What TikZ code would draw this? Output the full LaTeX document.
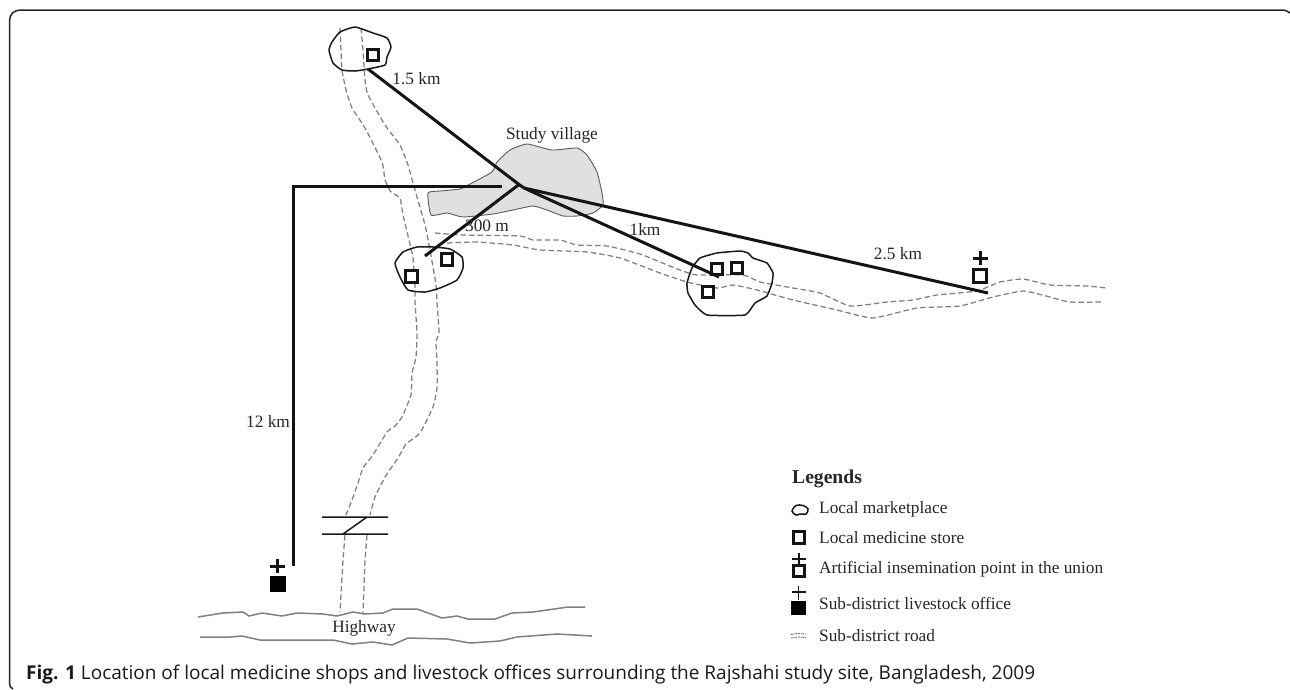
\documentclass[tikz,border=0pt]{standalone}
\usepackage{fontspec}
\setmainfont{Liberation Serif}
\newfontfamily\capfont{Open Sans}
\begin{document}
\begin{tikzpicture}[x=1pt,y=-1pt,
  lbl/.style={font=\fontsize{17.3}{20}\selectfont,text=black!85,inner sep=0pt},
  legtxt/.style={lbl,anchor=west},
  market/.style={draw=black!90,line width=1.5pt,line join=round},
  village/.style={draw=black!65,fill=black!12,line width=0.9pt},
  road/.style={draw=black!50,line width=1.25pt,dash pattern=on 5.5pt off 3pt},
  thick line/.style={draw=black!92,line width=3pt},
  highway/.style={draw=black!50,line width=1.5pt},
  store/.style={draw=black!92,line width=3pt,minimum size=11.5pt,inner sep=0pt,fill=white},
  office/.style={fill=black,minimum size=15.5pt,inner sep=0pt},
  plusmark/.style={draw=black!92,line width=3pt},
  thinplus/.style={draw=black!92,line width=1.7pt}]
\useasboundingbox (0,0) rectangle (1290,689);
\fill[white] (0,0) rectangle (1290,689);
% frame
\draw[black!85,line width=1.5pt] (13,689) .. controls (10.5,688) and (9.5,686) .. (9.5,683) -- (9.5,21) .. controls (9.5,14) and (14,10) .. (21,10) -- (1281,10) .. controls (1285,10) and (1288,11) .. (1290,13);
% village
\draw[village,line join=round] plot[smooth cycle,tension=0.3] coordinates {(428,193) (440,191) (460,189) (470,184) (492,172) (497,162) (510,150) (527,144) (552,150) (577,148) (587,155) (597,172) (602,193) (603,205) (593,213) (577,216) (563,216) (547,210) (533,206) (513,210) (493,214) (463,217) (447,213) (431,215)};
% north-south road
\draw[road] plot[smooth,tension=0.3] coordinates {(340,28) (341,50) (342,70) (346,90) (352,108) (365,128) (382,162) (385,180) (391,192) (400,198) (403,215) (409,240) (413,258) (415,285) (415,302) (417,333) (416,357) (412,373) (411,395) (402,417) (395,426) (387,432) (373,455) (363,468) (358,483) (352,500) (346,515)};
\draw[road] plot[smooth,tension=0.3] coordinates {(361,28) (363,50) (365,80) (368,95) (385,125) (400,145) (408,165) (415,190) (425,225) (430,250) (436,285) (437,303) (439,332) (436,342) (437,363) (437,388) (433,407) (420,433) (406,444) (398,458) (385,477) (375,497) (370,515)};
\draw[road] (345,535) -- (343,560) -- (340,612);
\draw[road] (367,535) -- (365,560) -- (363,614);
% east road
\draw[road] plot[smooth,tension=0.3] coordinates {(435,233) (463,235) (520,236) (533,240) (560,240) (577,245) (607,246) (640,254) (660,262) (680,270) (697,275) (743,275) (760,282) (793,288) (820,293) (850,306) (887,302) (913,300) (937,295) (977,291) (1000,282) (1023,279) (1050,285) (1087,286) (1106,288)};
\draw[road] plot[smooth,tension=0.3] coordinates {(447,243) (477,242) (513,245) (540,250) (587,252) (620,258) (660,273) (687,282) (717,288) (733,285) (757,290) (793,300) (837,310) (873,318) (917,308) (960,306) (993,297) (1023,291) (1050,297) (1070,302) (1103,302)};
% bridge
\coordinate (brA) at (322,517); \coordinate (brB) at (388,517);
\coordinate (brC) at (322,534); \coordinate (brD) at (388,534);
\coordinate (brE) at (343,534); \coordinate (brF) at (367,517);
\draw[black!90,line width=1.5pt] (brA) -- (brB) (brC) -- (brD) (brE) -- (brF);
% highway
\draw[highway] (198,617) -- (223,613) -- (243,612) -- (249,616) -- (262,613) -- (282,616) -- (297,613) -- (323,614) -- (337,616) -- (353,612) -- (365,614) -- (383,613) -- (393,609) -- (417,609) -- (442,618) -- (457,616) -- (468,619) -- (495,619) -- (512,613) -- (533,612) -- (568,607) -- (585,607);
\draw[highway] (200,637) -- (230,637) -- (242,636) -- (260,640) -- (333,640) -- (352,644) -- (373,642) -- (392,645) -- (408,638) -- (447,639) -- (470,643) -- (500,641) -- (517,637) -- (557,634) -- (592,636);
% marketplaces
\draw[market] plot[smooth cycle,tension=0.3] coordinates {(355,27) (340,32) (332,42) (329,50) (333,63) (342,70) (355,71) (368,69) (385,65) (387,57) (391,47) (387,38) (373,33)};
\draw[market] plot[smooth cycle,tension=0.3] coordinates {(417,247) (403,252) (395,263) (400,277) (408,290) (425,292) (440,288) (457,280) (463,268) (462,257) (450,249) (433,247)};
\draw[market] plot[smooth cycle,tension=0.25] coordinates {(700,258) (717,253) (740,251) (748,253) (753,258) (767,263) (773,273) (772,283) (767,296) (755,303) (745,315) (707,315) (695,305) (688,293) (687,283) (692,268)};
% stores
\node[store] (s1) at (373,55) {};
\node[store] (s2) at (411.5,276.5) {};
\node[store] (s3) at (447,259.5) {};
\node[store] (s4) at (717,269) {};
\node[store] (s5) at (737,268) {};
\node[store] (s6) at (708,292) {};
\node[store,minimum size=12.5pt] (ai) at (980,276) {};
\node[office] (off) at (278,584) {};
% plus marks
\coordinate (aiL) at (972.5,258); \coordinate (aiR) at (987.5,258);
\coordinate (aiT) at (980,251); \coordinate (aiB) at (980,265);
\draw[plusmark] (aiL) -- (aiR) (aiT) -- (aiB);
\coordinate (ofL) at (270,566); \coordinate (ofR) at (285,566);
\coordinate (ofT) at (277.5,559); \coordinate (ofB) at (277.5,573);
\draw[plusmark] (ofL) -- (ofR) (ofT) -- (ofB);
% connectors
\coordinate (hub) at (519,184.5);
\coordinate (hubE) at (524,188);
\coordinate (m1) at (368,69);
\coordinate (m2) at (425,256);
\coordinate (m3) at (719,277);
\coordinate (aiEnd) at (988,293);
\coordinate (wEnd) at (502,186.5);
\coordinate (corner) at (293,186.5);
\coordinate (ofEnd) at (293,566);
\draw[thick line] (m1) -- (hub) -- (hubE);
\draw[thick line] (m2) -- (hub);
\draw[thick line] (hubE) -- (m3);
\draw[thick line] (hubE) -- (aiEnd);
\draw[thick line,line join=miter] (wEnd) -- (corner) -- (ofEnd);
% labels
\node[lbl] (l15) at (416.5,79) {1.5 km};
\node[lbl] (lsv) at (552,135) {Study village};
\node[lbl] (l300) at (487,226) {300 m};
\node[lbl] (l1k) at (645,229) {1km};
\node[lbl] (l25) at (898,254) {2.5 km};
\node[lbl] (l12) at (268,421) {12 km};
\node[lbl] (lhw) at (364,628) {Highway};
% legend
\node[lbl,anchor=base west,font=\fontsize{19.6}{22}\selectfont\bfseries] (lg) at (792,483) {Legends};
\draw[black!90,line width=1.5pt] plot[smooth cycle,tension=0.6] coordinates {(792,511) (796,505.5) (803,505.5) (808,509) (806,514) (800,514) (796,515)};
\node[legtxt] (t1) at (819,509) {Local marketplace};
\node[store] (k2) at (799,537.5) {};
\node[legtxt] (t2) at (819,538) {Local medicine store};
\coordinate (k3L) at (792,559); \coordinate (k3R) at (806,559);
\coordinate (k3T) at (799,553); \coordinate (k3B) at (799,566);
\draw[thinplus] (k3L) -- (k3R) (k3T) -- (k3B);
\node[store] (k3) at (799,571) {};
\node[legtxt] (t3) at (819,569) {Artificial insemination point in the union};
\coordinate (k4L) at (792,592); \coordinate (k4R) at (806,592);
\coordinate (k4T) at (798.5,586); \coordinate (k4B) at (798.5,600);
\draw[thinplus] (k4L) -- (k4R) (k4T) -- (k4B);
\node[office,minimum size=14.5pt] (k4) at (798.5,608) {};
\node[legtxt] (t4) at (819,603) {Sub-district livestock office};
\draw[black!60,line width=0.8pt,dash pattern=on 2.5pt off 1pt] (791,634.5) -- (797,633.5) -- (806,634);
\draw[black!60,line width=0.8pt,dash pattern=on 2.5pt off 1pt] (791,638) -- (797,637) -- (806,637.5);
\node[legtxt] (t5) at (819,636) {Sub-district road};
% caption
\node[anchor=base west,inner sep=0pt,text=black!90,font=\fontsize{19}{22}\selectfont\capfont] (cap) at (26,679) {\textbf{Fig. 1} Location of local medicine shops and livestock offices surrounding the Rajshahi study site, Bangladesh, 2009};
\end{tikzpicture}
\end{document}
